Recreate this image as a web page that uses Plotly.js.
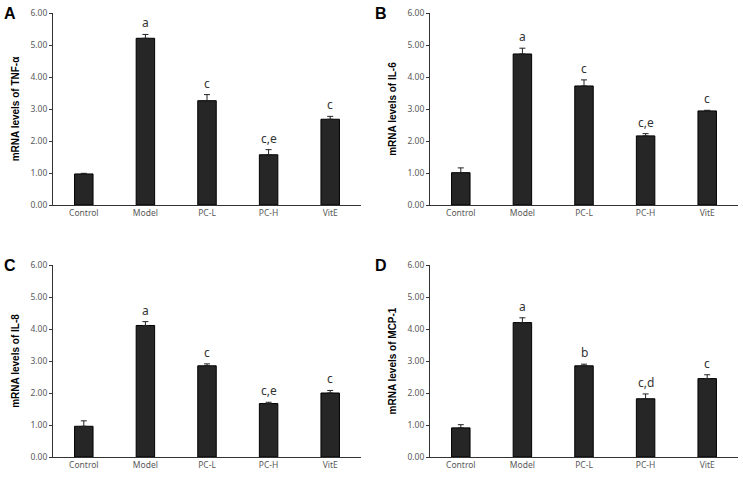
<!DOCTYPE html>
<html>
<head>
<meta charset="utf-8">
<script src="https://cdn.plot.ly/plotly-3.0.1.min.js"></script>
<style>
  html, body { margin: 0; padding: 0; background: #fff; }
  #chart { width: 743px; height: 477px; }
</style>
</head>
<body>
<div id="chart"></div>
<script>
// groups on the x axis
var groups = ['Control', 'Model', 'PC-L', 'PC-H', 'VitE'];

// panel A, TNF-a
var tnfMean = [0.97, 5.21, 3.26, 1.57, 2.68];
var tnfErr = [0.02, 0.12, 0.19, 0.16, 0.09];
var tnfSig = ['', 'a', 'c', 'c,e', 'c'];

// panel B, IL-6
var il6Mean = [1.01, 4.72, 3.72, 2.16, 2.94];
var il6Err = [0.15, 0.18, 0.19, 0.07, 0.02];
var il6Sig = ['', 'a', 'c', 'c,e', 'c'];

// panel C, IL-8
var il8Mean = [0.96, 4.11, 2.85, 1.67, 2.00];
var il8Err = [0.17, 0.12, 0.06, 0.04, 0.08];
var il8Sig = ['', 'a', 'c', 'c,e', 'c'];

// panel D, MCP-1
var mcpMean = [0.91, 4.20, 2.85, 1.82, 2.45];
var mcpErr = [0.10, 0.15, 0.05, 0.15, 0.12];
var mcpSig = ['', 'a', 'b', 'c,d', 'c'];

var panels = [
  {tag: 'A', mean: tnfMean, err: tnfErr, sig: tnfSig, ytitle: 'mRNA levels of TNF-\u03b1'},
  {tag: 'B', mean: il6Mean, err: il6Err, sig: il6Sig, ytitle: 'mRNA levels of IL-6'},
  {tag: 'C', mean: il8Mean, err: il8Err, sig: il8Sig, ytitle: 'mRNA levels of IL-8'},
  {tag: 'D', mean: mcpMean, err: mcpErr, sig: mcpSig, ytitle: 'mRNA levels of MCP-1'}
];

var W = 743, H = 477;
var xDom = [[53 / W, 361 / W], [430 / W, 738 / W]];
var yDom = [[1 - 205 / H, 1 - 13 / H], [1 - 457 / H, 1 - 265 / H]];
var tagPos = [[10, 13], [381, 13], [10, 265], [381, 265]];

var tickFont = {family: 'Noto Sans, sans-serif', size: 8.5, color: '#595959'};
var data = [];
var annotations = [];
var layout = {
  width: W, height: H,
  margin: {l: 0, r: 0, t: 0, b: 0},
  paper_bgcolor: '#fff', plot_bgcolor: '#fff',
  showlegend: false,
  bargap: 0.7
};

panels.forEach(function(p, i) {
  var n = i + 1;
  var xa = 'x' + (n === 1 ? '' : n);
  var ya = 'y' + (n === 1 ? '' : n);
  data.push({
    type: 'bar',
    x: groups, y: p.mean,
    xaxis: xa, yaxis: ya,
    width: 0.3,
    marker: {color: '#262626', line: {color: '#000', width: 1}},
    error_y: {type: 'data', symmetric: false, array: p.err, arrayminus: p.mean.map(function() { return 0; }),
              color: '#222', thickness: 1, width: 3}
  });
  layout['xaxis' + (n === 1 ? '' : n)] = {
    domain: xDom[i % 2], anchor: ya,
    showline: true, linecolor: '#333', linewidth: 1,
    ticks: '', tickfont: tickFont, showgrid: false, zeroline: false,
    fixedrange: true
  };
  layout['yaxis' + (n === 1 ? '' : n)] = {
    domain: yDom[Math.floor(i / 2)], anchor: xa,
    range: [0, 6], dtick: 1, tickformat: '.2f',
    showline: true, linecolor: '#333', linewidth: 1,
    ticks: 'outside', ticklen: 3, tickcolor: '#333',
    tickfont: tickFont, showgrid: false, zeroline: false,
    title: {text: '<b>' + p.ytitle + '</b>', font: {family: 'Liberation Sans, Arial, sans-serif', size: 10, color: '#000'}, standoff: 8}
  };
  p.sig.forEach(function(s, k) {
    if (!s) return;
    annotations.push({
      xref: xa, yref: ya, x: groups[k], y: p.mean[k] + p.err[k],
      yanchor: 'bottom', yshift: 1, showarrow: false, text: s,
      font: {family: 'Noto Sans, sans-serif', size: 12, color: '#333'}
    });
  });
  annotations.push({
    xref: 'paper', yref: 'paper', x: tagPos[i][0] / W, y: 1 - tagPos[i][1] / H,
    xanchor: 'center', yanchor: 'middle', showarrow: false, text: '<b>' + p.tag + '</b>',
    font: {family: 'Liberation Sans, Arial, sans-serif', size: 16, color: '#000'}
  });
});

layout.annotations = annotations;

Plotly.newPlot('chart', data, layout, {staticPlot: true});
</script>
</body>
</html>
